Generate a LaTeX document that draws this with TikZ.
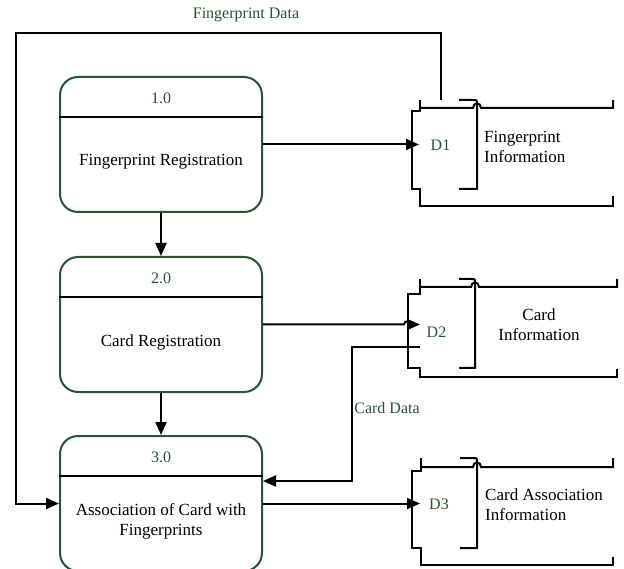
\documentclass[tikz,border=0pt]{standalone}
\usepackage{fontspec}
\setmainfont{Liberation Serif}
\usetikzlibrary{arrows.meta,calc}
\definecolor{dfdgreen}{RGB}{38,84,52}
\tikzset{
  proc/.style={draw=dfdgreen, line width=2pt, rounded corners=18pt, minimum width=202pt, minimum height=135pt, inner sep=0pt},
  divider/.style={line width=2pt, black},
  ln/.style={line width=2pt, black},
  arr/.style={line width=2pt, black, -{Triangle[length=13pt,width=11pt]}},
  txt/.style={font=\fontsize{17}{20}\selectfont, align=center, inner sep=0pt},
  ltxt/.style={font=\fontsize{17}{20}\selectfont, align=left, inner sep=0pt, anchor=west},
  gtxt/.style={font=\fontsize{16}{19}\selectfont, text=dfdgreen, inner sep=0pt},
}
\begin{document}
\begin{tikzpicture}[x=1pt,y=-1pt]
\useasboundingbox (0,0) rectangle (624,569);
\clip (0,0) rectangle (624,569);

% processes
\node[proc] (p1) at (161,144.5) {};
\node[proc] (p2) at (161,324.5) {};
\node[proc] (p3) at (161,503.5) {};
\foreach \p in {p1,p2,p3}{
  \draw[divider] ($(\p.north west)+(0,41)$) -- ($(\p.north east)+(0,41)$);
}
\node[gtxt] (n1) at ($(p1.north)+(0,22)$) {1.0};
\node[gtxt] (n2) at ($(p2.north)+(0,22)$) {2.0};
\node[gtxt] (n3) at ($(p3.north)+(0,22)$) {3.0};
\node[txt] (t1) at ($(p1.center)+(0,17.5)$) {Fingerprint Registration};
\node[txt] (t2) at ($(p2.center)+(0,17.5)$) {Card Registration};
\node[txt] (t3) at ($(p3.center)+(0,17.5)$) {Association of Card with\\Fingerprints};

% data store D1
\draw[ln] (420,100) -- (420,111) -- (412,111) -- (412,189) -- (420,189) -- (420,206) -- (613,206) -- (613,196);
\draw[ln] (420,108) -- (473,108) .. controls (473,102) and (481,102) .. (481,108) -- (613,108) -- (613,100);
\draw[ln] (459,100) -- (473,100) .. controls (477,100) .. (477,104) -- (477,189) -- (459,189);
% data store D2
\draw[ln] (420,279) -- (420,294) -- (408,294) -- (408,368) -- (420,368) -- (420,377) -- (617,377) -- (617,369);
\draw[ln] (420,287) -- (471,287) .. controls (471,281) and (479,281) .. (479,287) -- (617,287) -- (617,279);
\draw[ln] (459,279) -- (471,279) .. controls (475,279) .. (475,283) -- (475,368) -- (459,368);
% data store D3
\draw[ln] (421,458) -- (421,471) -- (412,471) -- (412,548) -- (421,548) -- (421,565) -- (613,565) -- (613,557);
\draw[ln] (421,467) -- (473,467) .. controls (473,461) and (481,461) .. (481,467) -- (613,467) -- (613,458);
\draw[ln] (460,458) -- (473,458) .. controls (477,458) .. (477,462) -- (477,548) -- (460,548);

\node[gtxt] (d1) at (440.5,145) {D1};
\node[gtxt] (d2) at (436.5,332) {D2};
\node[gtxt] (d3) at (439,504) {D3};
\node[ltxt] (s1) at (484,147) {Fingerprint\\Information};
\node[txt] (s2) at (539,325) {Card\\Information};
\node[ltxt] (s3) at (485,505) {Card Association\\Information};

% connection points on stores
\coordinate (d1in) at (419,144.5);
\coordinate (d2in) at (420,324.5);
\coordinate (d3in) at (420,503.5);
\coordinate (d1out) at (441,100);
\coordinate (d2out) at (420,347);

% flows
\draw[arr] (p1.south) -- (p2.north);
\draw[arr] (p2.south) -- (p3.north);
\draw[arr] (p1.east) -- (d1in);
\draw[arr] (p2.east) -- (404,324.5) .. controls (404,320) and (412,320) .. (412,324.5) -- (d2in);
\draw[arr] (p3.east) -- (d3in);
\draw[arr] (d2out) -- (352,347) |- ($(p3.east)+(0,-22.5)$);
\draw[arr] (d1out) -- (441,33) -- (16,33) |- (p3.west);

\node[gtxt] (fd) at (246,15) {Fingerprint Data};
\node[gtxt] (cd) at (387,408) {Card Data};
\end{tikzpicture}
\end{document}
